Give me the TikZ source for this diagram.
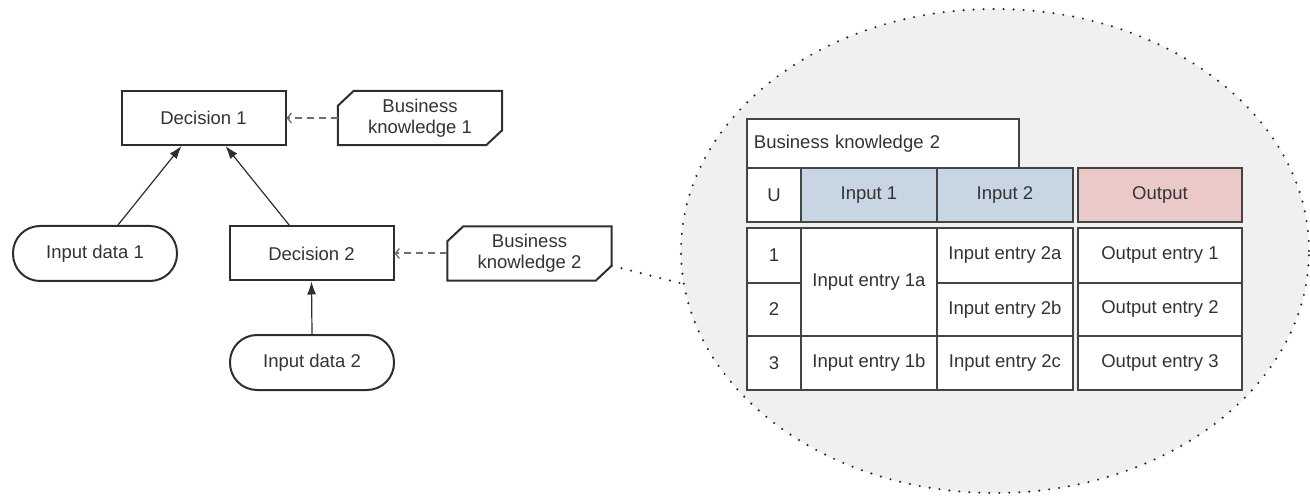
\documentclass[tikz,border=0pt]{standalone}
\usepackage{fontspec}
\setmainfont{Liberation Sans}
\usetikzlibrary{arrows.meta,shapes.geometric}
\definecolor{txt}{HTML}{333333}
\definecolor{edge}{HTML}{2E2E2E}
\definecolor{bordc}{HTML}{444444}
\definecolor{inblue}{HTML}{C8D5E3}
\definecolor{outpink}{HTML}{ECC9C9}
\definecolor{zoombg}{HTML}{F0F0F0}
\definecolor{dashc}{HTML}{6E6E6E}
\tikzset{
  lbl/.style={font=\fontsize{18.5}{21}\selectfont, text=txt},
  decbox/.style={lbl, draw=edge, line width=2pt, rectangle, minimum width=164pt, minimum height=54pt, inner sep=0pt, align=center},
  bkbox/.style={lbl, rectangle, minimum width=164pt, minimum height=54pt, inner sep=0pt, align=center},
  databox/.style={lbl, draw=edge, line width=2pt, rectangle, rounded corners=27pt, minimum width=164pt, minimum height=55pt, inner sep=0pt},
  bkline/.style={draw=edge, line width=2pt, line join=miter},
  info/.style={draw=edge, line width=1.2pt, -{Latex[length=13pt,width=9pt]}},
  knows/.style={draw=dashc, line width=2pt, dash pattern=on 7pt off 5pt, -{Straight Barb[length=4pt,width=10pt,line width=1.3pt]}},
  cell/.style={lbl, draw=bordc, line width=1.9pt, rectangle, inner sep=0pt, anchor=north west},
  dots/.style={draw=edge, line width=2.4pt, dash pattern=on 0pt off 10pt, line cap=round},
}
\begin{document}
\begin{tikzpicture}[x=1pt,y=-1pt]
\useasboundingbox (0,0) rectangle (1310,497);

% zoom ellipse
\node[ellipse, fill=zoombg, dots, minimum width=628pt, minimum height=484pt, inner sep=0pt] (zoom) at (995,251) {};

% left graph
\node[decbox] (d1) at (203.5,118) {Decision 1};
\node[bkbox] (bk1) at (420,118) {Business\\knowledge 1};
\draw[bkline] ([xshift=16pt]bk1.north west) -- (bk1.north east) -- ([yshift=15pt]bk1.south east)
  -- ([xshift=-16pt]bk1.south east) -- (bk1.south west) -- ([yshift=-15pt]bk1.north west) -- cycle;

\node[decbox] (d2) at (311.5,253.5) {Decision 2};
\node[bkbox] (bk2) at (529.5,253.5) {Business\\knowledge 2};
\draw[bkline] ([xshift=16pt]bk2.north west) -- (bk2.north east) -- ([yshift=15pt]bk2.south east)
  -- ([xshift=-16pt]bk2.south east) -- (bk2.south west) -- ([yshift=-15pt]bk2.north west) -- cycle;

\node[databox] (in1) at (95,253.5) {Input data 1};
\node[databox] (in2) at (312,362.5) {Input data 2};

\draw[info] ([xshift=23pt]in1.north) -- ([xshift=-22pt]d1.south);
\draw[info] ([xshift=-22pt]d2.north) -- ([xshift=22pt]d1.south);
\draw[info] (in2.north) -- (d2.south);
\draw[knows] (bk1.west) -- (d1.east);
\draw[knows] (bk2.west) -- (d2.east);

\coordinate (bk2c) at ([yshift=15pt]bk2.south east);
\draw[dots] (bk2c) -- (zoom.186);

% decision table
\node[cell, fill=white, minimum width=272pt, minimum height=49pt, text width=258pt, align=left, inner xsep=7pt] (title) at (746,118) {Business knowledge 2};

\node[cell, fill=white, minimum width=54pt, minimum height=54pt] (hu) at (746,167) {U};
\node[cell, fill=inblue, minimum width=136pt, minimum height=54pt] (hi1) at (800,167) {Input 1};
\node[cell, fill=inblue, minimum width=136pt, minimum height=54pt] (hi2) at (936,167) {Input 2};
\node[cell, fill=outpink, minimum width=164pt, minimum height=54pt] (ho) at (1077,167) {Output};

\node[cell, fill=white, minimum width=54pt, minimum height=55pt] (u1) at (746,227) {1};
\node[cell, fill=white, minimum width=54pt, minimum height=53pt] (u2) at (746,282) {2};
\node[cell, fill=white, minimum width=54pt, minimum height=54pt] (u3) at (746,335) {3};

\node[cell, fill=white, minimum width=136pt, minimum height=108pt] (e1a) at (800,227) {Input entry 1a};
\node[cell, fill=white, minimum width=136pt, minimum height=54pt] (e1b) at (800,335) {Input entry 1b};

\node[cell, fill=white, minimum width=136pt, minimum height=55pt] (e2a) at (936,227) {Input entry 2a};
\node[cell, fill=white, minimum width=136pt, minimum height=53pt] (e2b) at (936,282) {Input entry 2b};
\node[cell, fill=white, minimum width=136pt, minimum height=54pt] (e2c) at (936,335) {Input entry 2c};

\node[cell, fill=white, minimum width=164pt, minimum height=55pt] (o1) at (1077,227) {Output entry 1};
\node[cell, fill=white, minimum width=164pt, minimum height=53pt] (o2) at (1077,282) {Output entry 2};
\node[cell, fill=white, minimum width=164pt, minimum height=54pt] (o3) at (1077,335) {Output entry 3};
\end{tikzpicture}
\end{document}
